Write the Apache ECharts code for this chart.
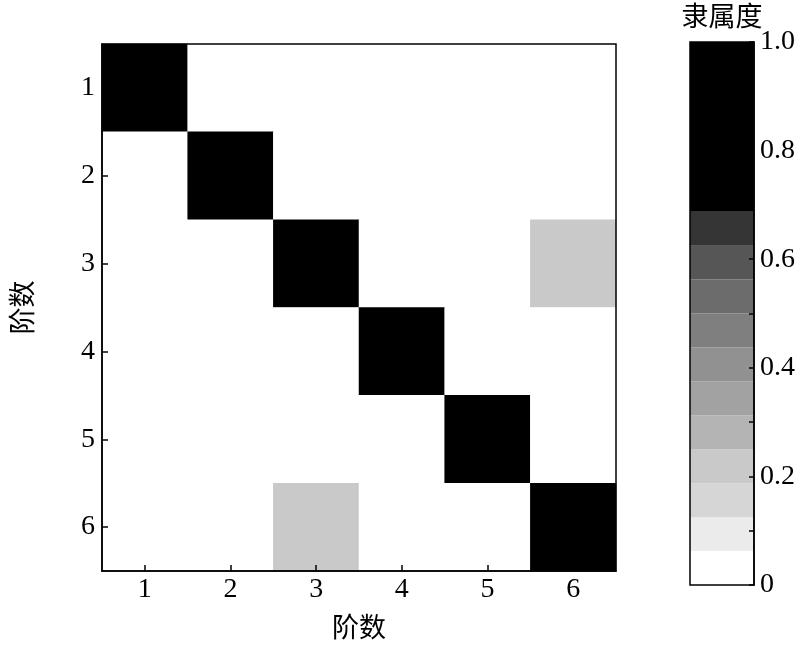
<!DOCTYPE html>
<html><head><meta charset="utf-8">
<script src="https://cdn.jsdelivr.net/npm/echarts@6/dist/echarts.min.js"></script>
<style>html,body{margin:0;padding:0;background:#fff}#c{width:800px;height:646px}</style>
</head><body><div id="c"></div>
<script>
// ---- data ----
const categories = ['1','2','3','4','5','6'];
const matrix = [
  [1, 0, 0, 0, 0, 0],
  [0, 1, 0, 0, 0, 0],
  [0, 0, 1, 0, 0, 0.2],
  [0, 0, 0, 1, 0, 0],
  [0, 0, 0, 0, 1, 0],
  [0, 0, 0.2, 0, 0, 1]
];
const bandEdges = [0, 0.0625, 0.125, 0.1875, 0.25, 0.3125, 0.375, 0.4375, 0.5, 0.5625, 0.625, 0.6875, 1.0];
const bandColors = ['#ffffff','#ebebeb','#d6d6d6','#c9c9c9','#b4b4b4','#a2a2a2','#919191','#7f7f7f','#6c6c6c','#565656','#353535','#000000'];
const colorbarTitle = '隶属度';
const axisTitle = '阶数';

const serif = '"Liberation Serif","Times New Roman",serif';
const cjk = '"Noto Sans CJK SC",sans-serif';

const heatData = [];
matrix.forEach((row, r) => row.forEach((v, c) => heatData.push([c, r, v])));

const pieces = bandColors.map((col, i) => ({
  gte: bandEdges[i], lt: i === bandColors.length - 1 ? 1.0001 : bandEdges[i + 1], color: col
}));

const barSeries = bandColors.map((col, i) => ({
  type: 'bar', xAxisIndex: 1, yAxisIndex: 1, stack: 'cb',
  barWidth: '100%', data: [bandEdges[i + 1] - bandEdges[i]],
  itemStyle: { color: col }, silent: true, animation: false
}));

const chart = echarts.init(document.getElementById('c'));
chart.setOption({
  animation: false,
  grid: [
    { left: 100, top: 44, width: 516, height: 527, show: true, borderColor: '#000', borderWidth: 1.5, backgroundColor: 'transparent', z: 20 },
    { left: 690, top: 42, width: 64, height: 543, show: true, borderColor: '#000', borderWidth: 1.5, backgroundColor: 'transparent', z: 20 }
  ],
  graphic: [
    { type: 'text', x: 722, y: 16, z: 30,
      style: { text: colorbarTitle, font: '27px ' + cjk, fill: '#000', textAlign: 'center', textVerticalAlign: 'middle' } }
  ],
  xAxis: [
    { type: 'category', gridIndex: 0, data: categories, z: 20,
      axisLine: { show: true, lineStyle: { color: '#000', width: 1.5 } },
      axisTick: { show: true, interval: 0, inside: true, alignWithLabel: true, length: 6, lineStyle: { color: '#000', width: 1.5 } },
      axisLabel: { color: '#000', fontFamily: serif, fontSize: 28, margin: 5 },
      splitLine: { show: false },
      name: axisTitle, nameLocation: 'middle', nameGap: 42,
      nameTextStyle: { color: '#000', fontFamily: cjk, fontSize: 27 } },
    { type: 'category', gridIndex: 1, data: ['c'], show: false, boundaryGap: true }
  ],
  yAxis: [
    { type: 'category', gridIndex: 0, data: categories, inverse: true, z: 20,
      axisLine: { show: true, lineStyle: { color: '#000', width: 1.5 } },
      axisTick: { show: true, interval: 0, inside: true, alignWithLabel: true, length: 6, lineStyle: { color: '#000', width: 1.5 } },
      axisLabel: { color: '#000', fontFamily: serif, fontSize: 28, margin: 7 },
      splitLine: { show: false },
      name: axisTitle, nameLocation: 'middle', nameGap: 67, nameRotate: 90,
      nameTextStyle: { color: '#000', fontFamily: cjk, fontSize: 27 } },
    { type: 'value', gridIndex: 1, position: 'right', min: 0, max: 1, interval: 0.1, z: 20,
      axisLine: { show: true, lineStyle: { color: '#000', width: 1.5 } },
      axisTick: { show: true, inside: true, length: 5, lineStyle: { color: '#000', width: 1.5 } },
      axisLabel: { color: '#000', fontFamily: serif, fontSize: 28, margin: 6,
        formatter: v => { const k = Math.round(v * 10); if (k % 2) return ''; return k === 0 ? '0' : (k / 10).toFixed(1); } },
      splitLine: { show: false } }
  ],
  visualMap: { type: 'piecewise', show: false, seriesIndex: 0, pieces: pieces, dimension: 2 },
  series: [
    { type: 'heatmap', xAxisIndex: 0, yAxisIndex: 0, data: heatData,
      itemStyle: { borderWidth: 0 }, silent: true }
  ].concat(barSeries)
});
</script></body></html>
